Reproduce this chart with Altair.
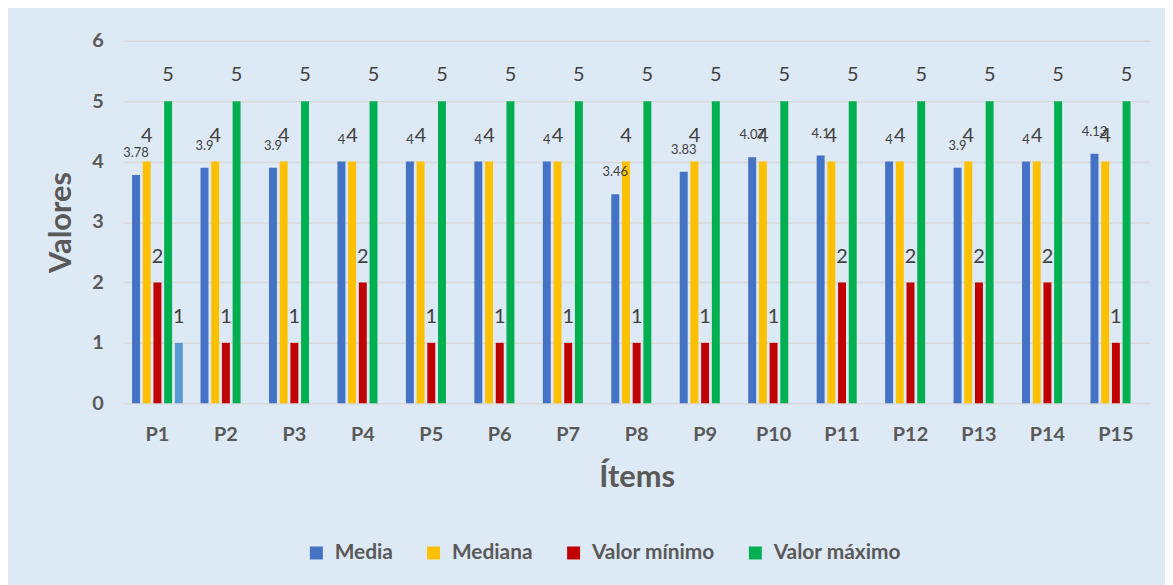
import altair as alt
import pandas as pd

items = [f"P{i}" for i in range(1, 16)]
series = ["Media", "Mediana", "Valor mínimo", "Valor máximo", "Serie5"]
media = [3.78, 3.9, 3.9, 4, 4, 4, 4, 3.46, 3.83, 4.07, 4.1, 4, 3.9, 4, 4.13]
media_labels = ["3.78", "3.9", "3.9", "4", "4", "4", "4", "3.46", "3.83", "4.07", "4.1", "4", "3.9", "4", "4.13"]
mediana = [4] * 15
minimo = [2, 1, 1, 2, 1, 1, 1, 1, 1, 1, 2, 2, 2, 2, 1]
maximo = [5] * 15
serie5 = {"P1": 1}
colors = ["#4472C4", "#FFC000", "#C00000", "#00B050", "#5B9BD5"]

rows = []
for i, it in enumerate(items):
    rows.append({"item": it, "serie": "Media", "valor": media[i], "label": media_labels[i], "big": False})
    rows.append({"item": it, "serie": "Mediana", "valor": mediana[i], "label": str(mediana[i]), "big": True})
    rows.append({"item": it, "serie": "Valor mínimo", "valor": minimo[i], "label": str(minimo[i]), "big": True})
    rows.append({"item": it, "serie": "Valor máximo", "valor": maximo[i], "label": str(maximo[i]), "big": True})
    if it in serie5:
        rows.append({"item": it, "serie": "Serie5", "valor": serie5[it], "label": str(serie5[it]), "big": True})
df = pd.DataFrame(rows)

FONT = "Lato"
GREY = "#595959"

x = alt.X("item:N", sort=items,
          scale=alt.Scale(paddingInner=0.25, paddingOuter=0.125),
          axis=alt.Axis(title="Ítems", labelAngle=0, labelFontSize=20, labelFontWeight="bold",
                        labelColor=GREY, labelPadding=22, domain=False, ticks=False, grid=False,
                        titleFontSize=31, titleFontWeight="bold", titleColor=GREY, titlePadding=18,
                        labelFont=FONT, titleFont=FONT))
xo = alt.XOffset("serie:N", sort=series, scale=alt.Scale(domain=series, paddingInner=0.2))
y = alt.Y("valor:Q", scale=alt.Scale(domain=[0, 6], nice=False),
          axis=alt.Axis(title="Valores", values=[0, 1, 2, 3, 4, 5, 6], labelFontSize=20,
                        labelFontWeight="bold", labelColor=GREY, labelPadding=20, domain=False,
                        ticks=False, gridColor="#D9D9D9", gridWidth=1.5,
                        titleFontSize=31, titleFontWeight="bold", titleColor=GREY, titlePadding=14,
                        labelFont=FONT, titleFont=FONT))
color = alt.Color("serie:N", scale=alt.Scale(domain=series, range=colors),
                  legend=alt.Legend(title=None, values=series[:4], orient="none", direction="horizontal",
                                    columns=4, legendX=184, legendY=505, symbolType="square",
                                    symbolSize=170, symbolStrokeWidth=0, labelFontSize=21,
                                    labelFontWeight="bold", labelColor=GREY, labelFont=FONT,
                                    columnPadding=30, symbolOffset=0, labelOffset=8))

base = alt.Chart(df)
bars = base.mark_bar(size=8).encode(x=x, xOffset=xo, y=y, color=color)
small = base.transform_filter("!datum.big").mark_text(
    baseline="middle", dy=-22, fontSize=13, color="#404040", font=FONT
).encode(x=x, xOffset=xo, y=y, text="label:N")
big = base.transform_filter("datum.big").mark_text(
    baseline="middle", dy=-26, fontSize=20, color="#404040", font=FONT
).encode(x=x, xOffset=xo, y=y, text="label:N")

chart = alt.layer(bars, small, big).properties(
    width=1034, height=365,
    background="#DDE9F5",
    padding={"left": 116, "top": 31, "right": 15, "bottom": 181},
    autosize=alt.AutoSizeParams(type="none"),
).configure_view(stroke=None)

chart.save("out.html", embed_options={"renderer": "svg", "actions": False})
